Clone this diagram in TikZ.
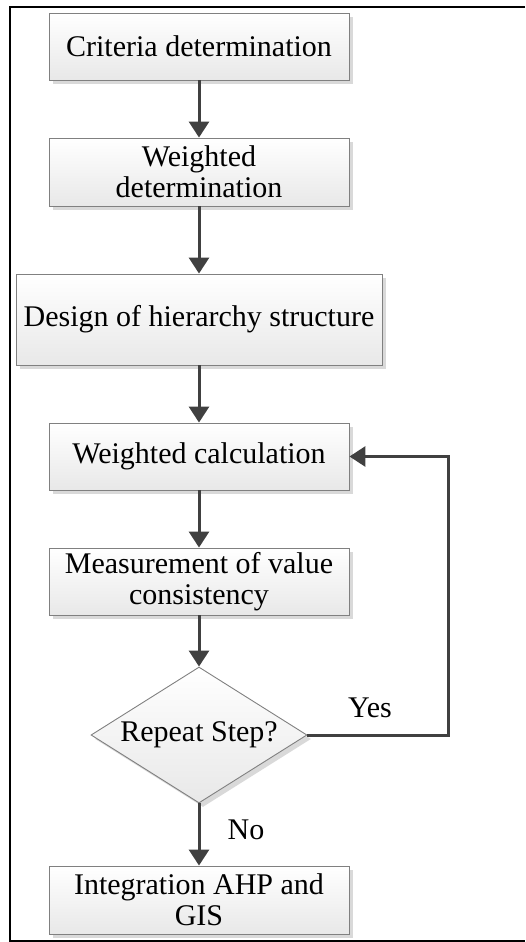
\documentclass[tikz,border=0pt]{standalone}
\usepackage{fontspec}
\setmainfont{Liberation Serif}
\usetikzlibrary{shapes.geometric,arrows.meta,shadows}
\definecolor{arrowgray}{HTML}{404040}
\definecolor{boxborder}{HTML}{808080}
\tikzset{
  flowbox/.style={draw=boxborder, line width=0.9pt, rectangle, top color=white, bottom color=black!9,
    drop shadow={shadow xshift=4pt, shadow yshift=-4pt, fill=black!15, opacity=1},
    align=center, inner sep=2pt, font=\fontsize{30}{31}\selectfont},
  decision/.style={draw=boxborder, line width=0.9pt, diamond, aspect=1.59, top color=white, bottom color=black!9,
    drop shadow={shadow xshift=4pt, shadow yshift=-4pt, fill=black!15, opacity=1},
    inner sep=0pt, minimum width=216pt, minimum height=136pt, font=\fontsize{30}{31}\selectfont},
  flowarrow/.style={draw=arrowgray, line width=3pt, -{Triangle[length=16pt,width=20pt]}},
  flowlabel/.style={font=\fontsize{30}{31}\selectfont}
}
\begin{document}
\begin{tikzpicture}[x=1pt,y=1pt]
\useasboundingbox (0,0) rectangle (525,-942);
\draw[line width=2pt] (525,-7) -- (9.5,-7) -- (9.5,-941) -- (525,-941);
\node[flowbox, minimum width=300pt, minimum height=67pt] (b1) at (199,-46.5) {Criteria determination};
\node[flowbox, minimum width=300pt, minimum height=68pt] (b2) at (199,-172) {Weighted\\determination};
\node[flowbox, minimum width=366pt, minimum height=91pt] (b3) at (199,-319.5) {Design of hierarchy structure};
\node[flowbox, minimum width=300pt, minimum height=67pt] (b4) at (199,-456.5) {Weighted calculation};
\node[flowbox, minimum width=300pt, minimum height=67pt] (b5) at (199,-581.5) {Measurement of value\\consistency};
\node[decision] (d) at (199,-735) {Repeat Step?};
\node[flowbox, minimum width=300pt, minimum height=68pt] (b6) at (199,-900) {Integration AHP and\\GIS};
\coordinate (loop) at (448,-735);
\draw[flowarrow] (b1) -- (b2);
\draw[flowarrow] (b2) -- (b3);
\draw[flowarrow] (b3) -- (b4);
\draw[flowarrow] (b4) -- (b5);
\draw[flowarrow] (b5) -- (d);
\draw[flowarrow] (d) -- (b6);
\draw[flowarrow] (d.east) -- (loop) |- (b4.east);
\node[flowlabel] (yes) at (370,-708) {Yes};
\node[flowlabel] (no) at (246,-830) {No};
\end{tikzpicture}
\end{document}
